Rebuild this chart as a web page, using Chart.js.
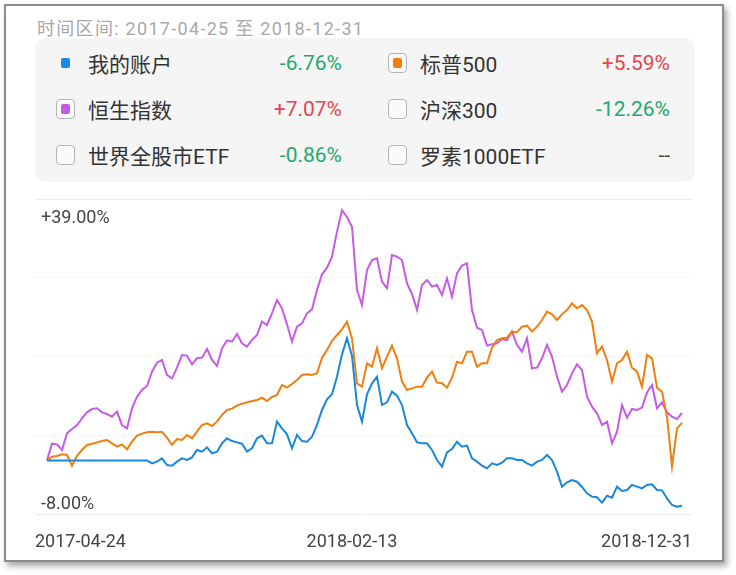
<!DOCTYPE html>
<html>
<head>
<meta charset="utf-8">
<script src="https://cdn.jsdelivr.net/npm/chart.js@4/dist/chart.umd.min.js"></script>
<style>
    body { margin: 0; width: 736px; height: 575px; background: #fff; position: relative; overflow: hidden;
           font-family: Roboto, "Noto Sans CJK SC", sans-serif; }
    #frame { position: absolute; left: 4px; top: 4px; width: 716px; height: 554px; border: 2px solid #8c8c8c;
             background: #fff; box-shadow: 3px 4px 6px rgba(0,0,0,0.35); }
    #period { position: absolute; left: 37px; top: 14px; font-size: 18px; color: #a8a8a8; letter-spacing: 1.3px; white-space: nowrap; }
    #legend { position: absolute; left: 35px; top: 38px; width: 660px; height: 144px; background: #f5f5f5; border-radius: 10px;
              display: grid; grid-template-columns: 332px 328px; grid-template-rows: 46px 46px 46px; padding-top: 2px; box-sizing: border-box; }
    .item { display: flex; align-items: center; padding-left: 21px; padding-right: 25px; }
    .box { width: 19px; height: 20px; box-sizing: border-box; border: 1.5px solid #b4b4b4; border-radius: 4px; background: #fafafa;
           display: flex; align-items: center; justify-content: center; }
    .box.bare { border-color: transparent; background: transparent; }
    .dot { width: 9px; height: 10px; border-radius: 2px; }
    .name { flex: 1; margin-left: 13px; font-size: 21px; color: #333; white-space: nowrap; }
    .val { font-size: 21px; white-space: nowrap; }
    #wrap { position: absolute; left: 35px; top: 190px; width: 657px; height: 370px; }
</style>
</head>
<body>
<div id="frame"></div>
<div id="period">时间区间: 2017-04-25 至 2018-12-31</div>
<div id="legend"></div>
<div id="wrap"><canvas id="chart"></canvas></div>
<script>
// legend entries
const legendNames = ['我的账户', '标普500', '恒生指数', '沪深300', '世界全股市ETF', '罗素1000ETF'];
const legendReturns = ['-6.76%', '+5.59%', '+7.07%', '-12.26%', '-0.86%', '--'];
const legendColors = ['#1a8ae8', '#f27d0c', '#c65be8', null, null, null];

// cumulative return (%) per trading sample, 2017-04-24 .. 2018-12-31
const myAccount = [
    0, 0, 0, 0, 0, 0, 0, 0, 0, 0, 0, 0, 0, 0, 0, 0, 0, 0, 0, 0, 0,
    -0.44, -0.19, 0.31, -0.69,
    -0.79, -0.19, 0.31, 0.06, 0.45, 1.55, 1.30, 1.95, 1.05, 1.30, 2.54, 3.29, 2.89, 2.69, 2.49, 1.30, 1.80, 3.29, 3.69, 2.54, 2.54, 5.78, 4.78, 3.89, 1.80, 3.79,
    2.89, 2.79, 3.54, 5.28, 7.52, 9.11, 9.86, 12.49, 15.82, 18.21, 15.63, 8.26, 5.78, 9.86, 11.50, 12.49, 8.26, 8.66, 10.25, 9.66, 8.26, 5.28, 4.04, 2.69, 2.54, 2.54,
    1.55, 0.06, -0.94, 1.20, 1.70, 2.79, 2.05, 2.20, 0.31, -0.19, -0.79, -1.19, -0.44, -0.69, -0.34, 0.31, 0.31, 0.06, 0.06, -0.44, -0.79, -0.19, 0.06, 0.80, 0.06, -1.68,
    -3.92, -3.28, -2.93, -3.18, -3.97, -4.92, -5.41, -5.51, -6.31, -5.27, -5.56, -3.92, -4.57, -4.42, -3.67, -3.92, -4.17, -3.67, -3.57, -4.42, -4.47, -5.66, -6.66, -6.91, -6.76
];
const sp500 = [
    0, 0.55, 0.65, 0.90, 0.80, -0.79, 0.70, 1.55, 2.30, 2.49, 2.69, 2.89, 3.04, 2.54, 2.05, 2.39, 1.65, 2.79, 3.69, 3.99, 4.19, 4.28, 4.19, 4.28, 3.39,
    2.30, 3.19, 3.04, 3.79, 3.29, 4.28, 5.28, 5.53, 5.13, 5.78, 6.77, 7.52, 7.72, 8.16, 8.46, 8.66, 8.86, 9.01, 9.36, 8.86, 9.46, 9.76, 11.25, 10.85, 11.40, 11.99,
    12.74, 12.84, 12.74, 12.99, 15.33, 16.47, 17.81, 18.71, 19.56, 20.70, 18.21, 11.50, 11.00, 14.48, 13.98, 16.72, 13.74, 15.48, 17.12, 15.23, 11.75, 10.50, 10.75, 11.00, 11.00, 12.34,
    13.24, 11.60, 11.50, 10.85, 12.34, 14.73, 14.48, 16.22, 16.22, 13.98, 14.48, 14.48, 16.82, 17.96, 18.21, 18.31, 19.21, 19.11, 19.95, 20.10, 19.21, 19.95, 20.95, 22.19, 21.79, 20.95,
    21.79, 22.44, 23.43, 22.69, 23.19, 22.44, 20.70, 15.97, 16.97, 14.98, 11.75, 14.48, 14.98, 16.22, 13.83, 13.24, 11.00, 15.72, 15.23, 10.85, 10.25, 6.52, -0.90, 4.78, 5.59
];
const hangSeng = [
    0, 2.49, 2.39, 1.55, 4.04, 4.68, 5.28, 6.27, 7.17, 7.67, 7.77, 7.17, 6.92, 6.52, 7.27, 5.28, 4.78, 7.77, 9.51, 10.50, 11.10, 13.24, 14.58, 14.98, 12.74,
    12.24, 13.83, 15.72, 15.63, 14.33, 15.23, 15.33, 16.62, 14.98, 14.08, 16.72, 17.91, 17.71, 18.86, 17.47, 16.97, 17.96, 18.71, 20.70, 20.20, 21.94, 23.93, 22.69, 20.30, 17.71, 19.95,
    20.45, 21.94, 22.54, 25.42, 27.76, 28.76, 30.40, 34.13, 37.30, 36.32, 34.87, 25.42, 23.19, 28.41, 29.90, 30.15, 26.67, 25.67, 30.65, 30.40, 29.90, 26.42, 24.83, 22.44, 26.17, 26.92,
    25.92, 26.17, 24.68, 27.17, 24.43, 27.91, 29.06, 29.40, 22.44, 19.80, 19.46, 17.12, 17.32, 17.47, 18.11, 17.96, 19.21, 17.22, 16.22, 18.21, 13.74, 13.83, 15.23, 17.22, 15.48, 12.49,
    10.25, 11.25, 12.99, 14.33, 13.49, 9.51, 8.02, 7.02, 5.28, 5.78, 2.54, 4.28, 8.26, 6.37, 7.67, 7.52, 7.87, 10.15, 11.25, 7.77, 8.66, 7.17, 6.52, 6.17, 7.07
];

// axes
const yGridTicks = [-8, 3.75, 15.5, 27.25, 39];
const yMin = -8, yMax = 39;
const xTickLabels = ['2017-04-24', '2018-02-13', '2018-12-31'];
const xTickAt = [-2.4, 61, 129];   // sample index where each date label sits

document.addEventListener('DOMContentLoaded', () => {
    buildLegend();
    drawChart();
});

function buildLegend() {
    const box = document.getElementById('legend');
    box.innerHTML = legendNames.map((name, i) => {
        const r = legendReturns[i];
        const col = r.startsWith('-') && r !== '--' ? '#1daa6c' : (r.startsWith('+') ? '#e3464f' : '#444');
        const dot = legendColors[i] ? `<div class="dot" style="background:${legendColors[i]}"></div>` : '';
        return `<div class="item">
            <div class="box ${i === 0 ? 'bare' : ''}">${dot}</div>
            <div class="name">${name}</div>
            <div class="val" style="color:${col}">${r}</div>
        </div>`;
    }).join('');
}

function pct(v) {
    return (v > 0 ? '+' : '') + v.toFixed(2) + '%';
}

function drawChart() {
    const toPoints = arr => arr.map((v, i) => ({ x: i, y: v }));
    const flat = s => { s.width = 0; s.paddingTop = 0; s.paddingBottom = 0; };
    const tickFont = { family: 'Roboto', size: 18 };

    new Chart(document.getElementById('chart'), {
        type: 'line',
        data: {
            datasets: [
                { label: legendNames[0], data: toPoints(myAccount), borderColor: '#1a88d8' },
                { label: legendNames[1], data: toPoints(sp500), borderColor: '#f07e10' },
                { label: legendNames[2], data: toPoints(hangSeng), borderColor: '#c65be8' }
            ]
        },
        options: {
            responsive: true,
            maintainAspectRatio: false,
            animation: false,
            layout: { padding: { top: 9, left: 0, right: 0, bottom: 0 } },
            elements: { point: { radius: 0 }, line: { borderWidth: 2, tension: 0 } },
            plugins: { legend: { display: false }, tooltip: { enabled: false } },
            scales: {
                x: {
                    type: 'linear', min: xTickAt[0], max: xTickAt[2],
                    grid: { display: false, drawTicks: false },
                    border: { display: false },
                    afterBuildTicks: s => { s.ticks = xTickAt.map(v => ({ value: v })); },
                    afterFit: s => { s.height = 46; s.paddingLeft = 0; s.paddingRight = 0; },
                    ticks: {
                        align: 'inner', padding: 18, maxRotation: 0, autoSkip: false,
                        color: '#444', font: tickFont,
                        callback: (v, i) => xTickLabels[i]
                    }
                },
                y: {
                    min: yMin, max: yMax, position: 'left',
                    grid: { color: '#ececec', lineWidth: 1, drawTicks: false },
                    border: { display: false, dash: c => (c.index === 0 || c.index === yGridTicks.length - 1) ? [] : [4, 4] },
                    afterBuildTicks: s => { s.ticks = yGridTicks.map(v => ({ value: v })); },
                    afterFit: flat,
                    ticks: { display: false }
                },
                yTop: {
                    min: yMin, max: yMax, position: 'left',
                    grid: { display: false, drawTicks: false },
                    border: { display: false },
                    afterBuildTicks: s => { s.ticks = [{ value: yMax }]; },
                    afterFit: flat,
                    ticks: { mirror: true, padding: 6, labelOffset: 19, color: '#444', font: tickFont, callback: pct }
                },
                yBottom: {
                    min: yMin, max: yMax, position: 'left',
                    grid: { display: false, drawTicks: false },
                    border: { display: false },
                    afterBuildTicks: s => { s.ticks = [{ value: yMin }]; },
                    afterFit: flat,
                    ticks: { mirror: true, padding: 6, labelOffset: -10, color: '#444', font: tickFont, callback: pct }
                }
            }
        }
    });
}
</script>
</body>
</html>
